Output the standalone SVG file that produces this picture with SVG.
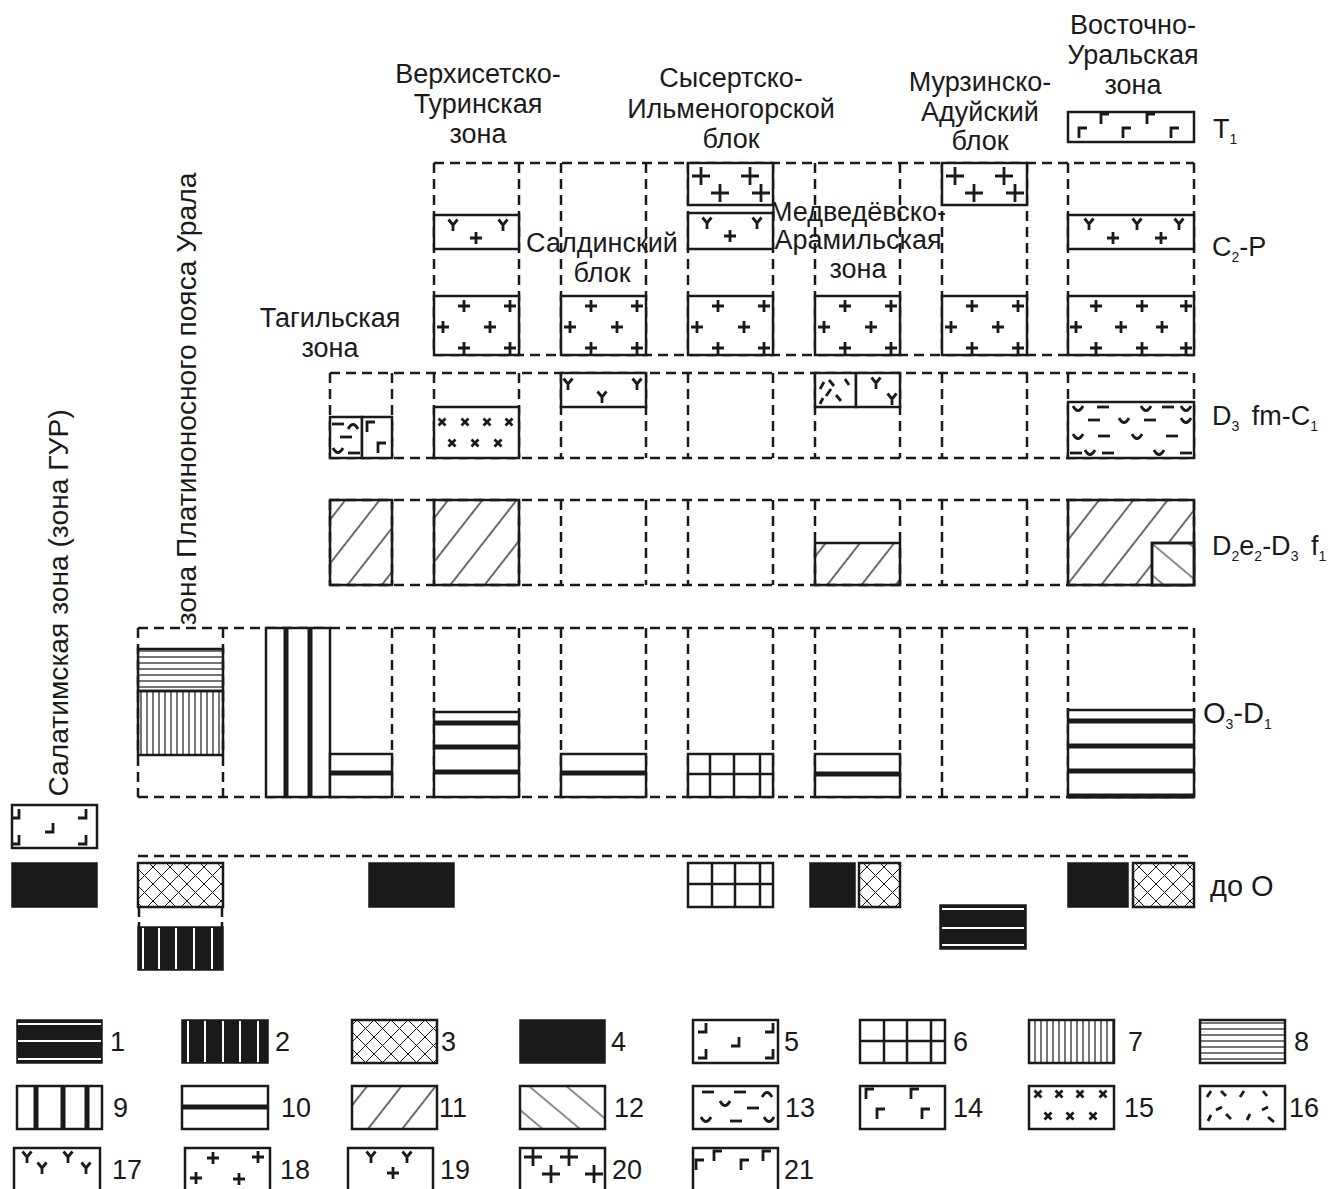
<svg xmlns="http://www.w3.org/2000/svg" width="1340" height="1189" viewBox="0 0 1340 1189">
<style>
.s{fill:none;stroke:#1a1a1a;stroke-width:2.5}
.o{stroke:#1a1a1a;stroke-width:2.5}
.w{fill:#fff;stroke:#1a1a1a;stroke-width:2.5}
.d{fill:none;stroke:#1a1a1a;stroke-width:2.5;stroke-dasharray:10 6}
.k{fill:#1a1a1a;stroke:#1a1a1a;stroke-width:1.5}
.th{stroke:#1a1a1a;stroke-width:5}
.wl{stroke:#fff;stroke-width:2}
.m{fill:none;stroke:#1a1a1a;stroke-width:2.8}
.t{font-family:"Liberation Sans",Arial,sans-serif;font-size:27px;fill:#1a1a1a}
.v{font-size:28.2px}
.sub{font-size:14px}
</style>
<defs>
<pattern id="p3" patternUnits="userSpaceOnUse" width="17" height="17"><path d="M0,0L17,17M17,0L0,17" stroke="#1a1a1a" stroke-width="1"/></pattern>
<pattern id="p7" patternUnits="userSpaceOnUse" width="6" height="10"><line x1="3" y1="0" x2="3" y2="10" stroke="#1a1a1a" stroke-width="1.2"/></pattern>
<pattern id="p8" patternUnits="userSpaceOnUse" width="10" height="6"><line x1="0" y1="3" x2="10" y2="3" stroke="#1a1a1a" stroke-width="1.2"/></pattern>
<pattern id="p11" patternUnits="userSpaceOnUse" width="27" height="27" patternTransform="rotate(38)"><line x1="13" y1="0" x2="13" y2="27" stroke="#1a1a1a" stroke-width="1.3"/></pattern>
<pattern id="p12" patternUnits="userSpaceOnUse" width="24" height="24" patternTransform="rotate(-50)"><line x1="12" y1="0" x2="12" y2="24" stroke="#1a1a1a" stroke-width="1"/></pattern>
<path id="pl" d="M-6,0H6M0,-6V6"/>
<path id="bp" d="M-9,0H9M0,-9V9"/>
<path id="ys" d="M-4.5,-5.5L0,0L4.5,-5.5M0,0V6"/>
<path id="xs" d="M-3.5,-3.5L3.5,3.5M3.5,-3.5L-3.5,3.5"/>
<path id="gm" d="M0,10V0H8"/>
<path id="g5" d="M8,0V9H0"/>
<path id="ds" d="M-6,0H6"/>
<path id="cu" d="M-5,-3Q0,6 5,-3"/>
<path id="ca" d="M-5,3Q0,-6 5,3"/>
<g id="m18"><use href="#pl" x="30" y="10"/><use href="#pl" x="76" y="10"/><use href="#pl" x="9" y="31"/><use href="#pl" x="56" y="31"/><use href="#pl" x="30" y="52"/><use href="#pl" x="76" y="52"/></g>
<g id="m20"><use href="#bp" x="13" y="13"/><use href="#bp" x="62" y="13"/><use href="#bp" x="32" y="30"/><use href="#bp" x="73" y="30"/></g>
<g id="m19"><use href="#ys" x="19" y="10"/><use href="#ys" x="69" y="10"/><use href="#pl" x="42" y="23"/></g>
</defs>
<rect width="1340" height="1189" fill="#fff"/>

<g id="connectors">
<path class="d" d="M434,163H1194M434,355H1194M434,163V355M519,163V355M561,163V355M646,163V355M688,163V355M773,163V355M815,163V355M900,163V355M942,163V355M1027,163V355M1068,163V355M1194,163V355"/>
<path class="d" d="M330,373H1194M330,458H1194M330,373V458M392,373V458M434,373V458M519,373V458M561,373V458M646,373V458M688,373V458M773,373V458M815,373V458M900,373V458M942,373V458M1027,373V458M1068,373V458M1194,373V458"/>
<path class="d" d="M330,500H1194M330,585H1194M330,500V585M392,500V585M434,500V585M519,500V585M561,500V585M646,500V585M688,500V585M773,500V585M815,500V585M900,500V585M942,500V585M1027,500V585M1068,500V585M1194,500V585"/>
<path class="d" d="M138,628H1194M138,797H1194M138,628V797M223,628V797M392,628V797M434,628V797M519,628V797M561,628V797M646,628V797M688,628V797M773,628V797M815,628V797M900,628V797M942,628V797M1027,628V797M1068,628V797M1194,628V797"/>
<path class="d" d="M138,856H1194"/>
</g>

<g id="headers" class="t" text-anchor="middle">
<text x="478" y="83">Верхисетско-</text><text x="478" y="113">Туринская</text><text x="478" y="143">зона</text>
<text x="731" y="87">Сысертско-</text><text x="731" y="118">Ильменогорской</text><text x="731" y="148">блок</text>
<text x="980" y="91">Мурзинско-</text><text x="980" y="121">Адуйский</text><text x="980" y="150">блок</text>
<text x="1133" y="34">Восточно-</text><text x="1133" y="64">Уральская</text><text x="1133" y="94">зона</text>
<text x="602" y="252">Салдинский</text><text x="602" y="282">блок</text>
<text x="858" y="221">Медведёвско-</text><text x="858" y="249">Арамильская</text><text x="858" y="278">зона</text>
<text x="330" y="327">Тагильская</text><text x="330" y="357">зона</text>
<text class="v" transform="translate(68,603) rotate(-90)">Салатимская зона (зона ГУР)</text>
<text class="v" transform="translate(196,399) rotate(-90)">зона Платиноносного пояса Урала</text>
</g>

<g id="ages" class="t">
<text x="1213" y="138">T<tspan class="sub" dy="6">1</tspan></text>
<text x="1212" y="256">C<tspan class="sub" dy="6">2</tspan><tspan dy="-6">-P</tspan></text>
<text x="1212" y="425">D<tspan class="sub" dy="6">3</tspan><tspan dy="-6" dx="5"> fm-C</tspan><tspan class="sub" dy="6">1</tspan></text>
<text x="1212" y="555">D<tspan class="sub" dy="6">2</tspan><tspan dy="-6">e</tspan><tspan class="sub" dy="6">2</tspan><tspan dy="-6">-D</tspan><tspan class="sub" dy="6">3</tspan><tspan dy="-6" dx="5"> f</tspan><tspan class="sub" dy="6">1</tspan></text>
<text x="1203" y="723" font-size="29">O<tspan class="sub" dy="6">3</tspan><tspan dy="-6">-D</tspan><tspan class="sub" dy="6">1</tspan></text>
<text x="1210" y="896" font-size="29">до O</text>
</g>

<g id="n-t1-east"><rect class="w" x="1068" y="112" width="126" height="30"/>
<g class="m"><use href="#gm" x="1101" y="114"/><use href="#gm" x="1147" y="114"/><use href="#gm" x="1079" y="128"/><use href="#gm" x="1123" y="128"/><use href="#gm" x="1171" y="128"/></g></g>

<g id="n-c2p-verkh"><rect class="w" x="434" y="215" width="85" height="34"/><use href="#m19" x="434" y="215" class="m"/>
<rect class="w" x="434" y="296" width="85" height="59"/><use href="#m18" x="434" y="296" class="m"/></g>
<g id="n-c2p-sald"><rect class="w" x="561" y="296" width="85" height="59"/><use href="#m18" x="561" y="296" class="m"/></g>
<g id="n-c2p-sys"><rect class="w" x="688" y="163" width="85" height="42"/><use href="#m20" x="688" y="163" class="m"/>
<rect class="w" x="688" y="213" width="85" height="36"/><use href="#m19" x="688" y="213" class="m"/>
<rect class="w" x="688" y="296" width="85" height="59"/><use href="#m18" x="688" y="296" class="m"/></g>
<g id="n-c2p-medv"><rect class="w" x="815" y="296" width="85" height="59"/><use href="#m18" x="815" y="296" class="m"/></g>
<g id="n-c2p-murz"><rect class="w" x="942" y="163" width="85" height="42"/><use href="#m20" x="942" y="163" class="m"/>
<rect class="w" x="942" y="296" width="85" height="59"/><use href="#m18" x="942" y="296" class="m"/></g>
<g id="n-c2p-east"><rect class="w" x="1068" y="215" width="126" height="34"/>
<g class="m"><use href="#ys" x="1089" y="224"/><use href="#ys" x="1137" y="224"/><use href="#ys" x="1179" y="224"/><use href="#pl" x="1113" y="238"/><use href="#pl" x="1161" y="238"/></g>
<rect class="w" x="1068" y="296" width="126" height="59"/>
<g class="m"><use href="#pl" x="1096" y="306"/><use href="#pl" x="1142" y="306"/><use href="#pl" x="1186" y="306"/><use href="#pl" x="1076" y="327"/><use href="#pl" x="1121" y="327"/><use href="#pl" x="1162" y="327"/><use href="#pl" x="1096" y="348"/><use href="#pl" x="1142" y="348"/><use href="#pl" x="1186" y="348"/></g></g>

<g id="n-d3-tagil"><rect class="w" x="330" y="417" width="32" height="41"/><rect class="w" x="362" y="417" width="30" height="41"/>
<g class="m"><use href="#ds" x="338" y="424"/><use href="#ca" x="353" y="426"/><use href="#ds" x="346" y="437"/><use href="#cu" x="338" y="451"/><use href="#ds" x="354" y="453"/><use href="#gm" x="367" y="422"/><use href="#gm" x="378" y="443"/></g></g>
<g id="n-d3-verkh"><rect class="w" x="434" y="407" width="85" height="51"/>
<g class="m"><use href="#xs" x="442" y="422"/><use href="#xs" x="465" y="422"/><use href="#xs" x="487" y="422"/><use href="#xs" x="509" y="422"/><use href="#xs" x="452" y="443"/><use href="#xs" x="475" y="443"/><use href="#xs" x="498" y="443"/></g></g>
<g id="n-d3-sald"><rect class="w" x="561" y="373" width="85" height="34"/>
<g class="m"><use href="#ys" x="568" y="384"/><use href="#ys" x="602" y="397"/><use href="#ys" x="637" y="384"/></g></g>
<g id="n-d3-medv"><rect class="w" x="815" y="373" width="41" height="34"/><rect class="w" x="856" y="373" width="44" height="34"/>
<g class="m"><path d="M820,389L824,382M829,380L834,386M826,396L831,389M836,395L841,401M820,404L823,398M845,379L849,385"/><use href="#ys" x="876" y="383"/><use href="#ys" x="892" y="399"/></g></g>
<g id="n-d3-east"><rect class="w" x="1068" y="402" width="126" height="56"/>
<g class="m"><use href="#cu" x="1078" y="409"/><use href="#ds" x="1103" y="407"/><use href="#cu" x="1146" y="409"/><use href="#ds" x="1168" y="407"/><use href="#cu" x="1186" y="409"/>
<use href="#ds" x="1094" y="420"/><use href="#cu" x="1124" y="421"/><use href="#ds" x="1150" y="420"/><use href="#cu" x="1186" y="421"/>
<use href="#cu" x="1078" y="437"/><use href="#ds" x="1104" y="436"/><use href="#cu" x="1137" y="437"/><use href="#ds" x="1172" y="436"/>
<use href="#ds" x="1076" y="453"/><use href="#cu" x="1090" y="453"/><use href="#ds" x="1108" y="453"/><use href="#cu" x="1159" y="453"/><use href="#ds" x="1186" y="453"/></g></g>

<g id="n-d2-tagil"><rect class="o" x="330" y="500" width="62" height="85" fill="url(#p11)"/></g>
<g id="n-d2-verkh"><rect class="o" x="434" y="500" width="85" height="85" fill="url(#p11)"/></g>
<g id="n-d2-medv"><rect class="o" x="815" y="543" width="85" height="42" fill="url(#p11)"/></g>
<g id="n-d2-east"><rect class="o" x="1068" y="500" width="126" height="85" fill="url(#p11)"/><rect class="w" x="1152" y="543" width="42" height="42"/><rect class="o" x="1152" y="543" width="42" height="42" fill="url(#p12)"/></g>

<g id="n-o3-plat"><rect class="o" x="138" y="649" width="85" height="42" fill="url(#p8)"/><rect class="o" x="138" y="691" width="85" height="64" fill="url(#p7)"/></g>
<g id="n-o3-tagil-w"><rect class="w" x="266" y="628" width="64" height="169"/><path class="th" d="M286,628V797M310,628V797"/></g>
<g id="n-o3-tagil"><rect class="w" x="330" y="754" width="62" height="43"/><path class="th" d="M330,773H392"/></g>
<g id="n-o3-verkh"><rect class="w" x="434" y="712" width="85" height="85"/><path class="th" d="M434,723H519M434,747H519M434,772H519"/></g>
<g id="n-o3-sald"><rect class="w" x="561" y="754" width="85" height="43"/><path class="th" d="M561,773H646"/></g>
<g id="n-o3-sys"><rect class="w" x="688" y="754" width="85" height="43"/><path class="s" d="M688,774H773M710,754V797M734,754V797M760,754V797"/></g>
<g id="n-o3-medv"><rect class="w" x="815" y="754" width="85" height="43"/><path class="th" d="M815,774H900"/></g>
<g id="n-o3-east"><rect class="w" x="1068" y="710" width="126" height="87"/><path class="th" d="M1068,721H1194M1068,746H1194M1068,771H1194M1068,796H1194"/></g>

<g id="n-sal-5"><rect class="w" x="12" y="805" width="85" height="43"/>
<g class="m"><use href="#g5" x="11" y="809"/><use href="#g5" x="78" y="809"/><use href="#g5" x="45" y="823"/><use href="#g5" x="11" y="835"/><use href="#g5" x="78" y="835"/></g></g>
<g id="n-sal-4"><rect class="k" x="12" y="863" width="85" height="44"/></g>
<g id="n-pre-plat"><rect class="o" x="138" y="863" width="85" height="44" fill="url(#p3)"/><path class="s" d="M139,907V917M222,907V917M139,922V927M222,922V927"/>
<rect class="k" x="138" y="927" width="85" height="43"/><path class="wl" d="M143,928V969M159,928V969M176,928V969M194,928V969M212,928V969"/></g>
<g id="n-pre-tagil"><rect class="k" x="369" y="863" width="85" height="44"/></g>
<g id="n-pre-sys"><rect class="w" x="688" y="863" width="85" height="44"/><path class="s" d="M688,884H773M712,863V907M735,863V907M760,863V907"/></g>
<g id="n-pre-medv"><rect class="k" x="810" y="863" width="45" height="44"/><rect class="o" x="859" y="863" width="41" height="44" fill="url(#p3)"/></g>
<g id="n-pre-murz"><rect class="k" x="940" y="905" width="86" height="44"/><path class="wl" d="M942,909H1024M942,928H1024M942,945H1024"/></g>
<g id="n-pre-east"><rect class="k" x="1068" y="863" width="60" height="44"/><rect class="o" x="1133" y="863" width="61" height="44" fill="url(#p3)"/></g>

<g id="legend">
<g id="lg1"><rect class="k" x="17" y="1020" width="85" height="43"/><path class="wl" d="M18,1024H101M18,1041H101M18,1059H101"/><text class="t" x="110" y="1051">1</text></g>
<g id="lg2"><rect class="k" x="182" y="1020" width="86" height="43"/><path class="wl" d="M188,1021V1062M205,1021V1062M223,1021V1062M240,1021V1062M258,1021V1062"/><text class="t" x="275" y="1051">2</text></g>
<g id="lg3"><rect class="o" x="352" y="1020" width="85" height="43" fill="url(#p3)"/><text class="t" x="441" y="1051">3</text></g>
<g id="lg4"><rect class="k" x="520" y="1020" width="85" height="43"/><text class="t" x="611" y="1051">4</text></g>
<g id="lg5"><rect class="w" x="693" y="1020" width="85" height="43"/>
<g class="m"><use href="#g5" x="698" y="1023"/><use href="#g5" x="765" y="1023"/><use href="#g5" x="731" y="1037"/><use href="#g5" x="698" y="1049"/><use href="#g5" x="765" y="1049"/></g><text class="t" x="784" y="1051">5</text></g>
<g id="lg6"><rect class="w" x="860" y="1020" width="85" height="43"/><path class="s" d="M860,1041H945M884,1020V1063M907,1020V1063M931,1020V1063"/><text class="t" x="953" y="1051">6</text></g>
<g id="lg7"><rect class="o" x="1029" y="1020" width="85" height="43" fill="url(#p7)"/><text class="t" x="1128" y="1051">7</text></g>
<g id="lg8"><rect class="o" x="1200" y="1020" width="85" height="43" fill="url(#p8)"/><text class="t" x="1294" y="1051">8</text></g>

<g id="lg9"><rect class="w" x="17" y="1086" width="85" height="43"/><path class="th" stroke-width="4" d="M36,1086V1129M63,1086V1129M87,1086V1129"/><text class="t" x="113" y="1117">9</text></g>
<g id="lg10"><rect class="w" x="182" y="1086" width="86" height="43"/><path class="th" d="M182,1107H268"/><text class="t" x="281" y="1117">10</text></g>
<g id="lg11"><rect class="o" x="352" y="1086" width="85" height="43" fill="url(#p11)"/><text class="t" x="439" y="1117">11</text></g>
<g id="lg12"><rect class="o" x="520" y="1086" width="85" height="43" fill="url(#p12)"/><text class="t" x="614" y="1117">12</text></g>
<g id="lg13"><rect class="w" x="693" y="1086" width="85" height="43"/>
<g class="m"><use href="#ds" x="708" y="1092"/><use href="#ds" x="740" y="1092"/><use href="#ca" x="767" y="1094"/><use href="#cu" x="725" y="1104"/><use href="#ds" x="753" y="1108"/><use href="#cu" x="706" y="1120"/><use href="#ds" x="736" y="1121"/><use href="#cu" x="769" y="1120"/></g><text class="t" x="785" y="1117">13</text></g>
<g id="lg14"><rect class="w" x="860" y="1086" width="85" height="43"/>
<g class="m"><use href="#gm" x="866" y="1089"/><use href="#gm" x="911" y="1089"/><use href="#gm" x="877" y="1109"/><use href="#gm" x="922" y="1109"/></g><text class="t" x="953" y="1117">14</text></g>
<g id="lg15"><rect class="w" x="1029" y="1086" width="85" height="43"/>
<g class="m"><use href="#xs" x="1038" y="1094"/><use href="#xs" x="1059" y="1094"/><use href="#xs" x="1080" y="1094"/><use href="#xs" x="1103" y="1094"/><use href="#xs" x="1048" y="1116"/><use href="#xs" x="1070" y="1116"/><use href="#xs" x="1093" y="1116"/></g><text class="t" x="1124" y="1117">15</text></g>
<g id="lg16"><rect class="w" x="1200" y="1086" width="85" height="43"/>
<path class="m" d="M1207,1097L1211,1091M1221,1091L1226,1096M1240,1097L1244,1091M1263,1091L1267,1096M1208,1121L1211,1115M1216,1110L1222,1107M1226,1114L1231,1119M1247,1120L1250,1114M1262,1110L1268,1107M1268,1117L1274,1122"/><text class="t" x="1289" y="1117">16</text></g>

<g id="lg17"><rect class="w" x="14" y="1148" width="86" height="50"/>
<g class="m"><use href="#ys" x="27" y="1157"/><use href="#ys" x="42" y="1168"/><use href="#ys" x="68" y="1157"/><use href="#ys" x="86" y="1168"/></g><text class="t" x="112" y="1179">17</text></g>
<g id="lg18"><rect class="w" x="185" y="1148" width="85" height="50"/>
<g class="m"><use href="#pl" x="213" y="1158"/><use href="#pl" x="258" y="1157"/><use href="#pl" x="196" y="1178"/><use href="#pl" x="239" y="1179"/></g><text class="t" x="280" y="1179">18</text></g>
<g id="lg19"><rect class="w" x="348" y="1148" width="85" height="50"/>
<g class="m"><use href="#ys" x="371" y="1157"/><use href="#ys" x="407" y="1157"/><use href="#pl" x="393" y="1173"/></g><text class="t" x="440" y="1179">19</text></g>
<g id="lg20"><rect class="w" x="520" y="1148" width="85" height="50"/>
<g class="m"><use href="#bp" x="533" y="1157"/><use href="#bp" x="569" y="1157"/><use href="#bp" x="551" y="1174"/><use href="#bp" x="594" y="1174"/></g><text class="t" x="612" y="1179">20</text></g>
<g id="lg21"><rect class="w" x="693" y="1148" width="85" height="50"/>
<g class="m"><use href="#gm" x="696" y="1160"/><use href="#gm" x="714" y="1151"/><use href="#gm" x="741" y="1160"/><use href="#gm" x="763" y="1151"/></g><text class="t" x="784" y="1179">21</text></g>
</g>
</svg>
